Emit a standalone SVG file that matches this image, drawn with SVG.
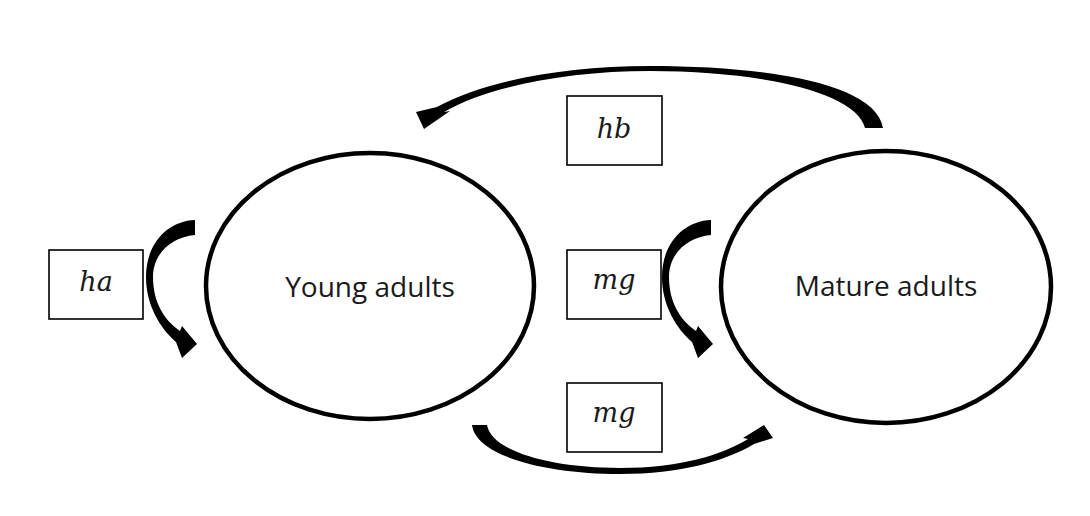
<svg xmlns="http://www.w3.org/2000/svg" width="1090" height="516" viewBox="0 0 1090 516">
<style>
.node ellipse{fill:#fff;stroke:#000;stroke-width:4.5}
.box{fill:#fff;stroke:#000;stroke-width:1.6}
.lbl{font-family:"Open Sans","Liberation Sans",sans-serif;font-size:28px;fill:#1a1a1a;text-anchor:middle}
.math{font-family:"DejaVu Serif","Liberation Serif",serif;font-style:italic;font-size:27px;fill:#1a1a1a;text-anchor:middle}
.arr{fill:#000}
</style>
<rect width="1090" height="516" fill="#fff"/>
<g id="young-adults" class="node">
<ellipse cx="370" cy="286" rx="164" ry="133"/>
<text class="lbl" x="370" y="297">Young adults</text>
</g>
<g id="mature-adults" class="node">
<ellipse cx="886" cy="287" rx="165" ry="136"/>
<text class="lbl" x="886" y="296">Mature adults</text>
</g>
<g id="label-hb">
<rect class="box" x="567" y="96" width="95" height="69"/>
<text class="math" x="614" y="138">hb</text>
</g>
<g id="label-ha">
<rect class="box" x="49" y="250" width="94" height="69"/>
<text class="math" x="96" y="291">ha</text>
</g>
<g id="label-mg-mid">
<rect class="box" x="567" y="250" width="94" height="69"/>
<text class="math" x="614" y="289">mg</text>
</g>
<g id="label-mg-bottom">
<rect class="box" x="567" y="383" width="95" height="69"/>
<text class="math" x="614" y="422">mg</text>
</g>
<g id="connectors">
<path class="arr" d="M883,128 C876,84 770,66 650,66 C560,66 482,82 437,107 L416,112 L424,129 L450,111 L444,112 C486,87 566,71 650,71 C760,71 856,92 865,128 Z"/>
<path class="arr" d="M195,220 C168,221 146,243 146,277 C146,305 160,328 176,342 L182,358 L197,344 L182,326 L180,331 C164,320 153,302 153,277 C153,253 172,237 195,235 Z"/>
<path class="arr" transform="translate(516,0)" d="M195,220 C168,221 146,243 146,277 C146,305 160,328 176,342 L182,358 L197,344 L182,326 L180,331 C164,320 153,302 153,277 C153,253 172,237 195,235 Z"/>
<path class="arr" d="M472,425 C476,456 545,474 620,474 C680,474 726,461 754,444 L773,438 L764,425 L743,438 L748,439 C722,455 680,468 620,468 C552,468 492,452 487,425 Z"/>
</g>
</svg>
